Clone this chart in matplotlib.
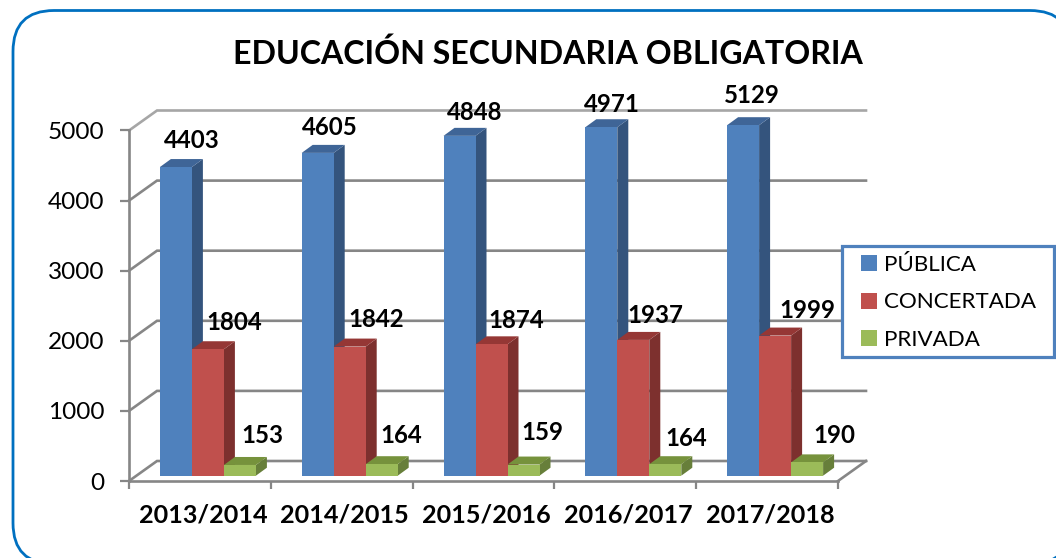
import numpy as np
import matplotlib
matplotlib.use("Agg")
import matplotlib.pyplot as plt
from matplotlib.patches import FancyBboxPatch, Patch, Polygon, Rectangle
from matplotlib.transforms import IdentityTransform

title = "EDUCACIÓN SECUNDARIA OBLIGATORIA"
categories = ["2013/2014", "2014/2015", "2015/2016", "2016/2017", "2017/2018"]
series_names = ["PÚBLICA", "CONCERTADA", "PRIVADA"]
publica = [4403, 4605, 4848, 4971, 5129]
concertada = [1804, 1842, 1874, 1937, 1999]
privada = [153, 164, 159, 164, 190]
y_ticks = [0, 1000, 2000, 3000, 4000, 5000]

W, H = 1056, 558
FONT = "Lato"
GRID = "#868686"
TEXT = "#000000"
styles = [
    dict(face="#4F81BD", side="#34547D", top="#3F6597"),
    dict(face="#C0504D", side="#7D302E", top="#953735"),
    dict(face="#9BBB59", side="#677F3A", top="#76923C"),
]
# label nudges in pixels from bar-top centre (one row per series)
nudges = [
    [(16, 27), (12, 25), (15, 23), (11, 23), (9, 30)],
    [(26, 27), (26, 27), (25, 24), (22, 24), (32, 25)],
    [(22, 29), (20, 29), (19, 32), (21, 26), (27, 27)],
]

fig = plt.figure(figsize=(W / 100, H / 100), dpi=100, facecolor="white")
L, R, T, B = 129, 838, 130.5, 481
ax = fig.add_axes([L / W, (H - B) / H, (R - L) / W, (B - T) / H])
ax.set_xlim(0, len(categories))
ax.set_ylim(0, y_ticks[-1])
ax.patch.set_alpha(0)
ux = len(categories) / (R - L)   # data units per pixel
uy = y_ticks[-1] / (B - T)

# outer rounded frame (runs off the canvas on the right and bottom)
fx0, fy0, fx1, fy1 = 13, 10.5, 1071, 564
fig.add_artist(FancyBboxPatch((fx0, H - fy1), fx1 - fx0, fy1 - fy0,
                              boxstyle="round,pad=0,rounding_size=41",
                              fc="white", ec="#0070C0", lw=2.0,
                              transform=IdentityTransform(), zorder=-5))

# back wall gridlines
wall_dx, wall_dy = 28 * ux, 20 * uy
xmax = len(categories)
for v in y_ticks:
    c = "#A6A6A6" if v == y_ticks[-1] else GRID
    ax.plot([0, wall_dx, xmax + wall_dx], [v, v + wall_dy, v + wall_dy],
            color=c, lw=1.9, clip_on=False, zorder=1, solid_joinstyle="miter")
ax.plot([xmax, xmax + wall_dx], [0, wall_dy], color=GRID, lw=1.9, clip_on=False, zorder=1)

# bars with pseudo-3D faces
bw = 32 / 141.8
off_x, off_y = 8 * ux, 5.3 * uy
dep_x, dep_y = 11 * ux, 8 * uy
centers = np.arange(len(categories)) + 0.5
all_series = [publica, concertada, privada]
z = 3
for i, xc in enumerate(centers):
    for s, vals in enumerate(all_series):
        st = styles[s]
        h = min(vals[i], y_ticks[-1])
        x0 = xc + off_x + (s - 1.5) * bw
        x1 = x0 + bw
        y0 = off_y
        y1 = off_y + h
        ax.add_patch(Polygon([(x1, y0), (x1 + dep_x, y0 + dep_y), (x1 + dep_x, y1 + dep_y), (x1, y1)],
                             fc=st["side"], ec="none", clip_on=False, zorder=z))
        ax.add_patch(Polygon([(x0, y1), (x1, y1), (x1 + dep_x, y1 + dep_y), (x0 + dep_x, y1 + dep_y)],
                             fc=st["top"], ec="none", clip_on=False, zorder=z))
        ax.bar(x0, h, bw, bottom=y0, align="edge", color=st["face"], clip_on=False, zorder=z)
        z += 0.01

# data labels
for s, vals in enumerate(all_series):
    for i, xc in enumerate(centers):
        h = min(vals[i], y_ticks[-1])
        x = xc + off_x + (s - 1) * bw
        y = off_y + h
        nx, ny = nudges[s][i]
        ax.annotate(str(vals[i]), (x, y), xytext=(nx, ny), xycoords="data",
                    textcoords="offset pixels",
                    ha="center", va="center", family=FONT, fontweight="bold",
                    fontsize=17.3, color=TEXT, zorder=10, annotation_clip=False)

# axes
for sp in ("top", "right"):
    ax.spines[sp].set_visible(False)
for sp in ("left", "bottom"):
    ax.spines[sp].set_color(GRID)
    ax.spines[sp].set_linewidth(1.9)
    ax.spines[sp].set_zorder(2)
ax.set_yticks(y_ticks)
ax.set_yticklabels([str(v) for v in y_ticks], family=FONT, fontsize=17.6, color=TEXT)
ax.tick_params(axis="y", length=6.5, width=1.6, color=GRID, pad=11)
ax.set_xticks(range(len(categories) + 1))
ax.set_xticklabels([""] * (len(categories) + 1))
ax.tick_params(axis="x", which="major", length=5.5, width=1.6, color=GRID)
ax.set_xticks(centers + 3 * ux, minor=True)
ax.set_xticklabels(categories, minor=True, family=FONT, fontweight="bold", fontsize=18.1, color=TEXT)
ax.tick_params(axis="x", which="minor", length=0, pad=16)

fig.text(548 / W, (H - 54) / H, title, ha="center", va="center", family=FONT,
         fontweight="bold", fontsize=23.1, color=TEXT)

# legend box drawn separately so its padding can differ per side
fig.add_artist(Rectangle((842, H - 356.7), 212, 111, fc="white", ec="#4F81BD", lw=2.3,
                         transform=IdentityTransform(), zorder=15))
handles = [Patch(fc=st["face"], ec="none", label=n) for st, n in zip(styles, series_names)]
fs = 16.1
leg = fig.legend(handles=handles, loc="upper left", bbox_to_anchor=(861 / W, (H - 255) / H),
                 frameon=False, borderaxespad=0, borderpad=0, handlelength=0.72, handleheight=0.72,
                 handletextpad=0.3, labelspacing=0.78, prop=dict(family=FONT, size=fs), labelcolor=TEXT)
leg.set_zorder(20)

fig.savefig("out.png", dpi=100)
